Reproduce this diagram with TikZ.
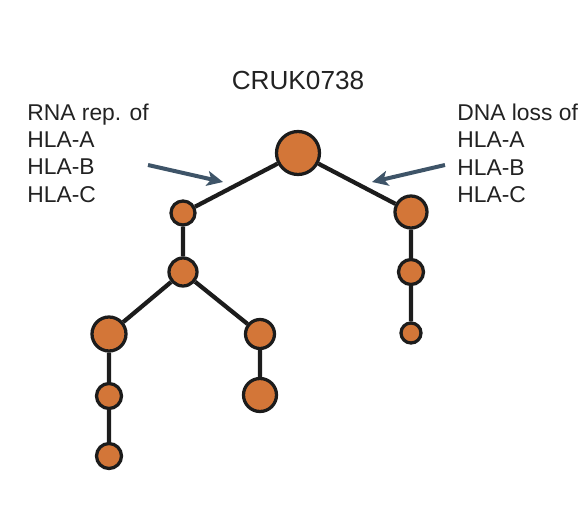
\documentclass[tikz,border=0pt]{standalone}
\usepackage{fontspec}
\setmainfont{Liberation Sans}
\usetikzlibrary{arrows.meta}
\definecolor{cloneorange}{RGB}{211,118,56}
\definecolor{edgeblack}{RGB}{28,28,28}
\definecolor{arrowslate}{RGB}{62,84,104}
\definecolor{labelgrey}{RGB}{34,34,34}
\tikzset{
	clone/.style={circle,draw=edgeblack,fill=cloneorange,line width=0.065cm,inner sep=0pt,minimum size=#1*0.02cm},
	branch/.style={draw=edgeblack,line width=0.085cm},
	pointer/.style={draw=arrowslate,line width=0.08cm,-{Stealth[length=0.32cm,width=0.3cm,inset=0.08cm]}},
	hlalabel/.style={anchor=north west,inner sep=0pt,align=left,text=labelgrey,font=\fontsize{13pt}{15.4pt}\selectfont}
}
\begin{document}
\begin{tikzpicture}[x=0.02cm,y=-0.02cm]
		\useasboundingbox (0,0) rectangle (582,510);
		\node[font=\fontsize{14.9pt}{17pt}\selectfont,text=labelgrey,anchor=base] (title) at (298,90) {CRUK0738};
		\node[hlalabel] (rnalabel) at (27,104) {RNA rep. of\\HLA-A\\HLA-B\\HLA-C};
		\node[hlalabel] (dnalabel) at (457,104) {DNA loss of\\HLA-A\\HLA-B\\HLA-C};
		\node[clone=43] (root) at (298,153) {};
		\node[clone=24] (l1) at (183,213) {};
		\node[clone=28] (l2) at (183,272) {};
		\node[clone=34] (ll) at (109,334) {};
		\node[clone=25] (ll2) at (109,396) {};
		\node[clone=25] (ll3) at (109,456) {};
		\node[clone=29] (lr) at (260,334) {};
		\node[clone=33] (lr2) at (260,395) {};
		\node[clone=32] (r1) at (411,212) {};
		\node[clone=25] (r2) at (411,272) {};
		\node[clone=20] (r3) at (411,333) {};
		\path[branch] (root) -- (l1) (l1) -- (l2) (l2) -- (ll) (ll) -- (ll2) (ll2) -- (ll3)
			(l2) -- (lr) (lr) -- (lr2) (root) -- (r1) (r1) -- (r2) (r2) -- (r3);
		\coordinate (rnafrom) at (148,165);
		\coordinate (rnato) at (223,182);
		\coordinate (dnafrom) at (445,165);
		\coordinate (dnato) at (372,182);
		\draw[pointer] (rnafrom) -- (rnato);
		\draw[pointer] (dnafrom) -- (dnato);
	\end{tikzpicture}
\end{document}
